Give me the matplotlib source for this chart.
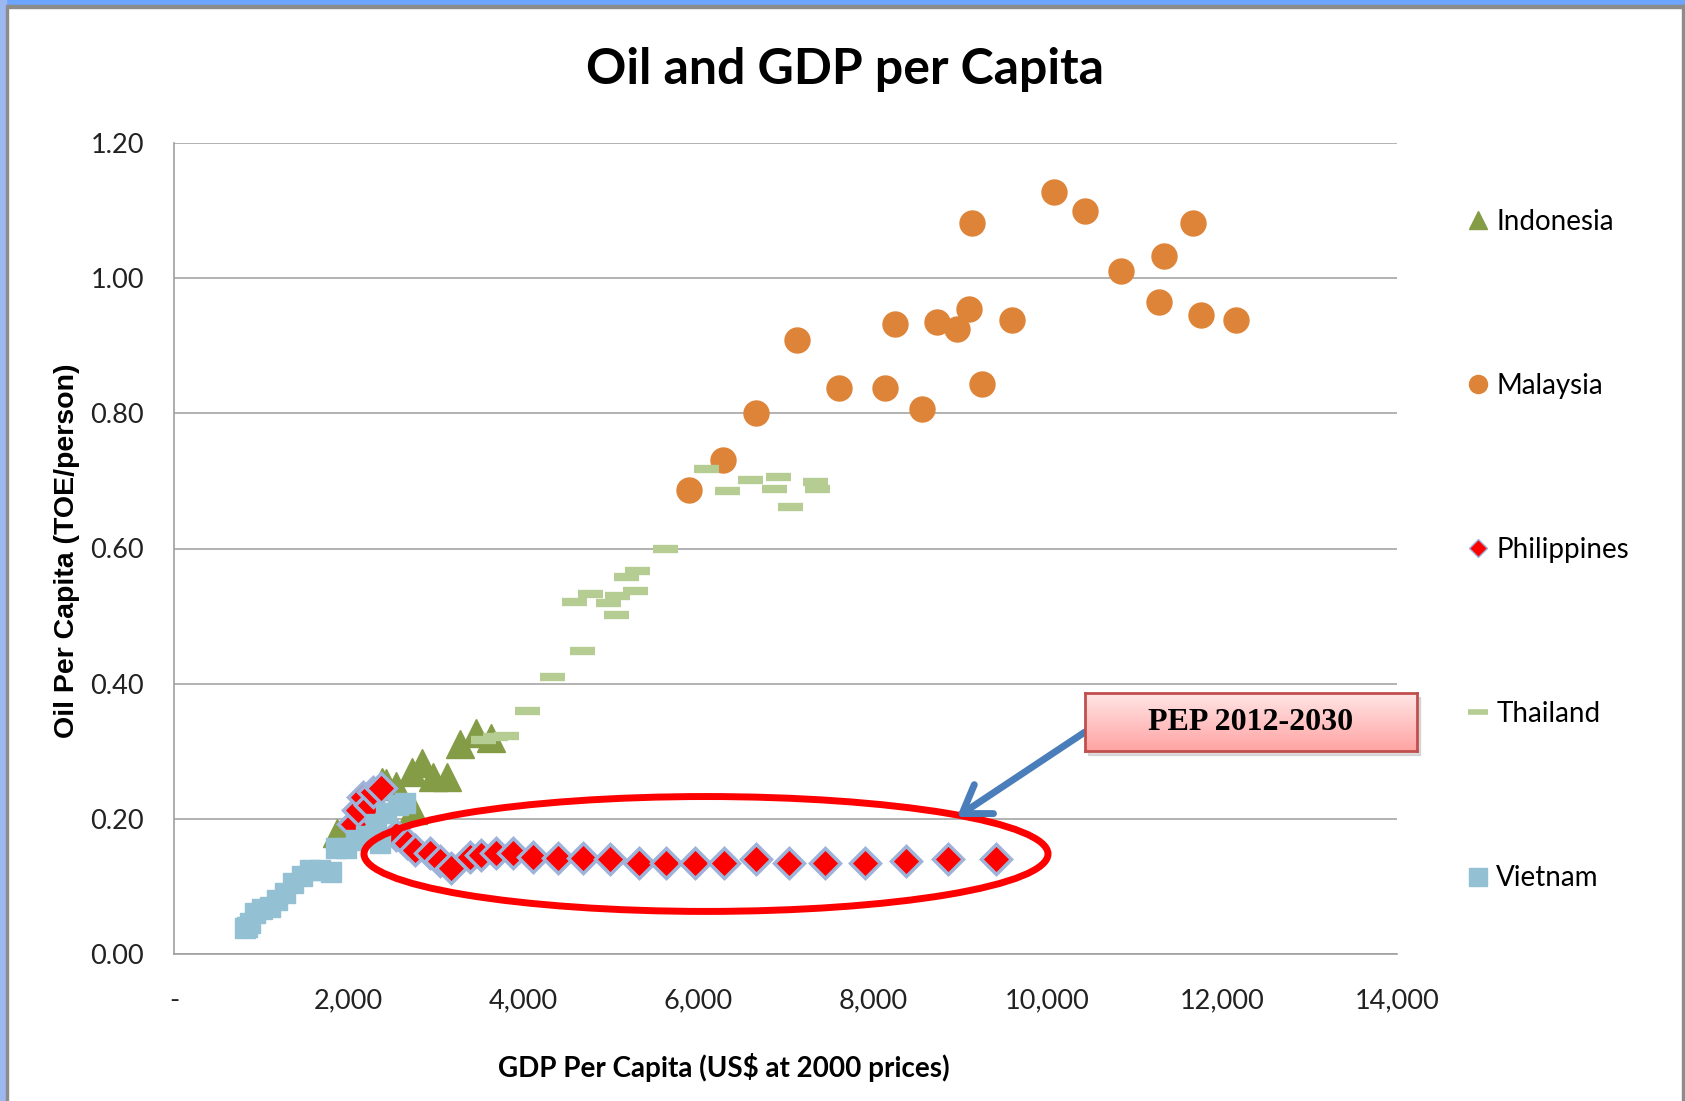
import numpy as np
import matplotlib
matplotlib.use('Agg')
from matplotlib import pyplot as plt
from matplotlib.lines import Line2D
from matplotlib.patches import Ellipse, Rectangle
from matplotlib.ticker import FuncFormatter

# GDP per capita (US$ at 2000 prices) vs oil per capita (TOE/person)
indonesia_gdp = [1861, 1974, 2380, 2432, 2546, 2720, 2737, 2834, 2966, 3120, 3272, 3461, 3634]
indonesia_oil = [0.179, 0.176, 0.255, 0.253, 0.248, 0.270, 0.213, 0.282, 0.262, 0.262, 0.310, 0.327, 0.319]

malaysia_gdp = [5892, 6285, 6667, 7134, 7614, 8143, 8253, 8561, 8733, 8967, 9102,
                9139, 9250, 9594, 10074, 10431, 10836, 11279, 11328, 11661, 11759, 12153]
malaysia_oil = [0.687, 0.731, 0.801, 0.909, 0.838, 0.838, 0.932, 0.806, 0.935, 0.925, 0.954,
                1.081, 0.844, 0.938, 1.127, 1.100, 1.010, 0.965, 1.033, 1.081, 0.946, 0.938]

philippines_gdp = [2050, 2107, 2163, 2240, 2277, 2374, 2546, 2663, 2756, 2928, 3042, 3176,
                   3385, 3519, 3690, 3881, 4110, 4397, 4683, 4994, 5326, 5633, 5966, 6298,
                   6667, 7036, 7454, 7909, 8376, 8856, 9410]
philippines_oil = [0.193, 0.213, 0.233, 0.221, 0.240, 0.245, 0.176, 0.164, 0.154, 0.149, 0.137, 0.127,
                   0.144, 0.147, 0.149, 0.149, 0.144, 0.142, 0.142, 0.141, 0.135, 0.135, 0.135, 0.135,
                   0.140, 0.135, 0.135, 0.135, 0.138, 0.140, 0.140]

thailand_gdp = [3538, 3672, 3797, 4046, 4329, 4668, 4579, 4767, 4967, 5055, 5068, 5169,
                5272, 5305, 5622, 6095, 6329, 6596, 6867, 6916, 7050, 7334, 7355]
thailand_oil = [0.316, 0.321, 0.322, 0.359, 0.410, 0.449, 0.521, 0.532, 0.519, 0.502, 0.530, 0.558,
                0.537, 0.567, 0.599, 0.718, 0.685, 0.701, 0.688, 0.706, 0.662, 0.699, 0.688]

vietnam_gdp = [812, 840, 869, 926, 1003, 1098, 1175, 1270, 1365, 1461, 1556, 1670, 1802,
               1859, 1974, 2088, 2202, 2317, 2357, 2432, 2565, 2642]
vietnam_oil = [0.038, 0.040, 0.046, 0.060, 0.066, 0.070, 0.080, 0.090, 0.105, 0.115, 0.125, 0.125, 0.122,
               0.157, 0.157, 0.169, 0.174, 0.193, 0.164, 0.208, 0.221, 0.223]

x_ticks = [0, 2000, 4000, 6000, 8000, 10000, 12000, 14000]
y_ticks = [0.0, 0.2, 0.4, 0.6, 0.8, 1.0, 1.2]

C_IDN = '#839C45'
C_MYS = '#DE8438'
C_PHL = '#FF0000'
C_PHL_EDGE = '#9DB3DA'
C_THA = '#B5CC93'
C_VNM = '#93C0D3'

W, H = 1685, 1101
fig = plt.figure(figsize=(W / 100, H / 100), dpi=100)
fig.patch.set_facecolor('white')

# window-like frame around the chart
fig.patches.append(Rectangle((0, 1 - 5 / H), 1, 5 / H, transform=fig.transFigure,
                             color='#6CA6FF', zorder=0))
fig.patches.append(Rectangle((0, 1 - 8 / H), 1, 3 / H, transform=fig.transFigure,
                             color='#8C8C8C', zorder=0))
fig.patches.append(Rectangle((0, 0), 6 / W, 1, transform=fig.transFigure,
                             color='#9DB8F0', zorder=0))
fig.patches.append(Rectangle((6 / W, 0), 2 / W, 1 - 5 / H, transform=fig.transFigure,
                             color='#8C8C8C', zorder=0))
fig.patches.append(Rectangle((1 - 3 / W, 0), 3 / W, 1 - 5 / H, transform=fig.transFigure,
                             color='#8C8C8C', zorder=0))

ax = fig.add_axes([174 / W, 1 - 954 / H, 1223 / W, 811 / H])

ax.plot(indonesia_gdp, indonesia_oil, ls='none', marker='^', ms=20, color=C_IDN,
        mec=C_IDN, label='Indonesia', zorder=3)
ax.plot(malaysia_gdp, malaysia_oil, ls='none', marker='o', ms=18, color=C_MYS,
        mec=C_MYS, label='Malaysia', zorder=3)
ax.plot(philippines_gdp, philippines_oil, ls='none', marker='D', ms=15.5, color=C_PHL,
        mec=C_PHL_EDGE, mew=2.5, label='Philippines', zorder=3)
ax.plot(thailand_gdp, thailand_oil, ls='none', marker='_', ms=18, mew=6, color=C_THA,
        label='Thailand', zorder=3)
ax.plot(vietnam_gdp, vietnam_oil, ls='none', marker='s', ms=14, color=C_VNM,
        mec=C_VNM, label='Vietnam', zorder=3)

ax.set_xlim(0, 14000)
ax.set_ylim(0, 1.2)
ax.set_xticks(x_ticks)
ax.set_yticks(y_ticks)
ax.xaxis.set_major_formatter(FuncFormatter(lambda v, p: '-' if v == 0 else f'{v:,.0f}'))
ax.yaxis.set_major_formatter(FuncFormatter(lambda v, p: f'{v:.2f}'))
ax.tick_params(length=0, labelsize=19.5, colors='#222222')
ax.tick_params(axis='y', pad=21.5)
ax.tick_params(axis='x', pad=24.5)
for lab in ax.get_xticklabels() + ax.get_yticklabels():
    lab.set_family('Lato')

ax.grid(axis='y', color='#A6A6A6', lw=1.2)
ax.set_axisbelow(True)
for s in ['top', 'right']:
    ax.spines[s].set_visible(False)
for s in ['left', 'bottom']:
    ax.spines[s].set_color('#A0A0A0')
    ax.spines[s].set_linewidth(1.2)

# highlight of the PEP projections
ax.add_patch(Ellipse((6090, 0.148), 7830, 0.170, fill=False, ec='#FF0000', lw=5, zorder=4))
ax.annotate('', xy=(8963, 0.2027), xytext=(10428, 0.3285),
            arrowprops=dict(arrowstyle='->,head_length=0.75,head_width=0.5', color='#4A7EBB',
                            lw=5, mutation_scale=25, shrinkA=0, shrinkB=0), zorder=5)

# callout box with pink gradient
bx0, by0, bw, bh = 1085 / W, 1 - 751 / H, 332 / W, 58 / H
fig.patches.append(Rectangle((bx0 + 3 / W, by0 - 4 / H), bw, bh, transform=fig.transFigure,
                             color='#BBBBBB', alpha=0.5, zorder=5))
bax = fig.add_axes([bx0, by0, bw, bh], zorder=6)
grad = np.linspace(0, 1, 100).reshape(-1, 1)
top = np.array([1.0, 0.90, 0.90])
bot = np.array([1.0, 0.64, 0.64])
img = top[None, None, :] * (1 - grad[:, :, None]) + bot[None, None, :] * grad[:, :, None]
bax.imshow(img, aspect='auto', extent=(0, 1, 0, 1))
bax.set_xticks([])
bax.set_yticks([])
for s in bax.spines.values():
    s.set_color('#C0504D')
    s.set_linewidth(2)
bax.text(0.5, 0.5, 'PEP 2012-2030', ha='center', va='center', fontsize=23,
         fontweight='bold', family='Liberation Serif', color='black', transform=bax.transAxes)

fig.text(845 / W, 1 - 70 / H, 'Oil and GDP per Capita', ha='center', va='center',
         fontsize=36, fontweight='bold', family='Lato')
fig.text(724 / W, 1 - 1068 / H, 'GDP Per Capita (US$ at 2000 prices)', ha='center', va='center',
         fontsize=20, fontweight='bold', family='Lato')
fig.text(67 / W, 1 - 551 / H, 'Oil Per Capita (TOE/person)', ha='center', va='center',
         rotation=90, fontsize=20.5, fontweight='bold', family='Liberation Sans')

handles = [
    Line2D([], [], ls='none', marker='^', ms=13, color=C_IDN),
    Line2D([], [], ls='none', marker='o', ms=13, color=C_MYS),
    Line2D([], [], ls='none', marker='D', ms=9, color=C_PHL, mec=C_PHL_EDGE, mew=1),
    Line2D([], [], ls='none', marker='_', ms=15, mew=4, color=C_THA),
    Line2D([], [], ls='none', marker='s', ms=13, color=C_VNM),
]
labels = ['Indonesia', 'Malaysia', 'Philippines', 'Thailand', 'Vietnam']
fig.legend(handles, labels, loc='upper left', bbox_to_anchor=(1467 / W, 1 - 209 / H),
           frameon=False, handlelength=0.8, handletextpad=0.25, labelspacing=4.97,
           borderaxespad=0, borderpad=0, prop={'family': 'Lato', 'size': 20})

fig.savefig('out.png', dpi=100)
